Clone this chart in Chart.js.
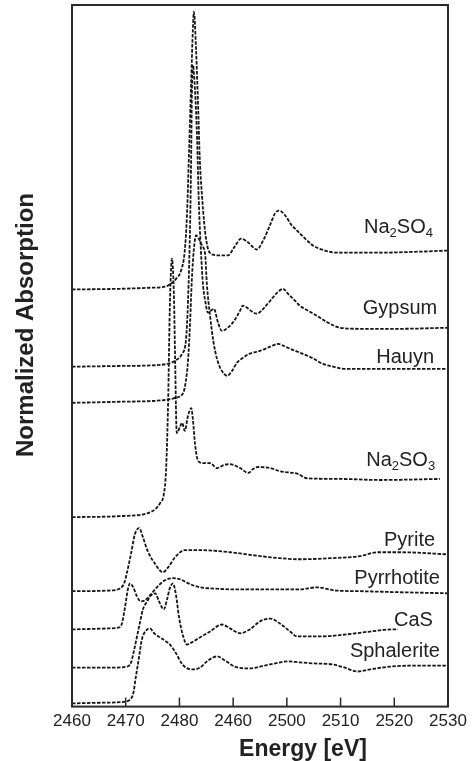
<!DOCTYPE html>
<html lang="en">
<head>
    <meta charset="UTF-8">
    <title>S K-edge XANES</title>
    <script src="https://cdn.jsdelivr.net/npm/chart.js"></script>
    <style>
        html, body { margin: 0; padding: 0; background: #fff; }
        #wrap { width: 473px; height: 761px; }
    </style>
</head>
<body>
    <div id="wrap"><canvas id="myChart" width="473" height="761"></canvas></div>
    <script>
        // x axis tick labels as printed (the 2490 position really reads "2460")
        const tickLabels = ['2460', '2470', '2480', '2460', '2500', '2510', '2520', '2530'];

        // spectra, offset vertically (edge step ~1 unit)
        const na2so4Energy = [2460.0, 2468.9, 2474.5, 2477.3, 2478.2, 2479.4, 2480.3, 2481.0, 2481.4, 2481.8, 2482.2, 2482.5, 2482.7, 2483.1, 2483.5, 2483.8, 2484.2, 2484.6, 2484.8, 2485.3, 2486.1, 2487.6, 2489.0, 2490.2, 2491.5, 2492.8, 2494.4, 2495.6, 2496.9, 2497.8, 2498.5, 2499.7, 2500.8, 2501.9, 2503.4, 2504.9, 2507.1, 2509.3, 2517.3, 2524.8, 2530.0];
        const na2so4Abs = [11.89, 11.91, 11.94, 11.97, 12.03, 12.20, 12.43, 13.00, 14.00, 15.86, 17.86, 19.29, 19.80, 18.71, 17.00, 15.57, 14.57, 13.80, 13.51, 13.06, 12.89, 12.86, 12.86, 13.09, 13.34, 13.23, 13.03, 13.29, 13.74, 14.06, 14.14, 14.00, 13.74, 13.57, 13.34, 13.14, 13.00, 12.94, 12.94, 12.97, 13.00];

        const gypsumEnergy = [2460.0, 2468.9, 2476.4, 2477.7, 2479.2, 2480.5, 2481.2, 2481.6, 2482.0, 2482.2, 2482.3, 2482.5, 2482.9, 2483.3, 2483.6, 2484.0, 2484.4, 2484.8, 2485.3, 2485.9, 2486.4, 2487.2, 2487.9, 2489.0, 2490.2, 2491.3, 2491.8, 2492.6, 2493.5, 2494.4, 2495.6, 2496.9, 2498.2, 2499.3, 2500.2, 2501.5, 2502.4, 2503.9, 2505.6, 2507.7, 2509.9, 2513.6, 2521.1, 2530.0];
        const gypsumAbs = [9.69, 9.71, 9.74, 9.77, 9.86, 10.06, 10.43, 11.57, 13.86, 15.86, 17.29, 18.29, 17.57, 16.14, 14.43, 13.00, 12.00, 11.57, 11.23, 11.29, 11.34, 10.94, 10.71, 10.80, 11.00, 11.29, 11.43, 11.37, 11.26, 11.20, 11.34, 11.57, 11.80, 11.91, 11.77, 11.57, 11.43, 11.29, 11.14, 10.94, 10.80, 10.77, 10.77, 10.80];

        const hauynEnergy = [2460.0, 2468.9, 2477.3, 2479.2, 2480.7, 2481.2, 2481.6, 2482.0, 2482.3, 2482.7, 2483.1, 2483.6, 2484.2, 2484.8, 2485.1, 2485.7, 2486.3, 2487.0, 2487.9, 2488.9, 2489.8, 2490.7, 2491.8, 2493.1, 2495.0, 2496.9, 2498.4, 2499.7, 2501.1, 2502.4, 2504.7, 2506.7, 2508.6, 2510.8, 2521.1, 2530.0];
        const hauynAbs = [8.66, 8.69, 8.74, 8.80, 8.94, 9.29, 9.86, 11.00, 12.14, 13.06, 13.43, 13.34, 13.14, 12.86, 12.06, 11.14, 10.43, 9.91, 9.57, 9.43, 9.57, 9.80, 9.94, 10.06, 10.14, 10.26, 10.34, 10.26, 10.17, 10.09, 9.94, 9.77, 9.69, 9.63, 9.63, 9.63];

        const na2so3Energy = [2460.0, 2468.9, 2474.0, 2475.5, 2476.4, 2477.1, 2477.5, 2477.9, 2478.2, 2478.6, 2479.0, 2479.2, 2479.5, 2480.1, 2480.5, 2481.0, 2481.6, 2482.2, 2482.5, 2482.9, 2483.5, 2484.6, 2485.7, 2487.0, 2488.3, 2489.4, 2491.3, 2492.8, 2493.7, 2494.6, 2496.9, 2498.7, 2502.1, 2503.7, 2509.9, 2517.3, 2528.5];
        const na2so3Abs = [5.40, 5.43, 5.51, 5.63, 5.80, 6.06, 6.71, 8.71, 11.29, 12.77, 11.57, 9.86, 7.80, 7.97, 8.09, 7.86, 8.29, 8.51, 8.20, 7.49, 7.00, 6.94, 6.94, 6.80, 6.89, 6.91, 6.80, 6.66, 6.77, 6.83, 6.80, 6.71, 6.63, 6.51, 6.49, 6.46, 6.49];

        const pyriteEnergy = [2460.0, 2467.1, 2468.9, 2469.7, 2470.2, 2471.0, 2471.7, 2472.5, 2473.2, 2474.1, 2475.5, 2476.9, 2477.9, 2479.2, 2481.0, 2483.8, 2489.4, 2495.0, 2498.7, 2502.4, 2508.0, 2513.6, 2516.8, 2521.1, 2530.0];
        const pyriteAbs = [3.29, 3.31, 3.37, 3.51, 3.80, 4.37, 4.91, 5.09, 4.83, 4.43, 4.06, 3.83, 3.97, 4.26, 4.46, 4.46, 4.40, 4.29, 4.23, 4.20, 4.23, 4.29, 4.40, 4.40, 4.34];

        const pyrrhotiteEnergy = [2460.0, 2467.1, 2468.8, 2469.3, 2469.9, 2470.4, 2470.8, 2471.4, 2472.1, 2472.8, 2473.6, 2474.5, 2475.8, 2477.3, 2478.8, 2480.1, 2482.0, 2483.8, 2485.7, 2491.3, 2496.9, 2502.4, 2505.6, 2509.0, 2513.6, 2521.1, 2530.0];
        const pyrrhotiteAbs = [2.20, 2.23, 2.26, 2.37, 2.86, 3.34, 3.51, 3.40, 3.14, 3.00, 3.03, 3.17, 3.40, 3.60, 3.66, 3.63, 3.49, 3.40, 3.37, 3.34, 3.34, 3.34, 3.40, 3.31, 3.29, 3.26, 3.23];

        const casEnergy = [2460.0, 2467.1, 2470.2, 2471.0, 2471.5, 2472.1, 2472.7, 2473.2, 2474.0, 2474.7, 2475.5, 2476.2, 2477.1, 2477.7, 2478.2, 2478.8, 2479.4, 2479.9, 2480.7, 2481.4, 2482.3, 2483.8, 2485.7, 2487.9, 2489.4, 2491.3, 2493.1, 2495.0, 2496.9, 2498.7, 2500.6, 2501.9, 2506.2, 2511.2, 2515.5, 2519.6, 2520.7];
        const casAbs = [1.11, 1.11, 1.14, 1.26, 1.57, 2.00, 2.43, 2.77, 3.00, 3.17, 3.23, 3.00, 2.77, 3.06, 3.37, 3.51, 3.14, 2.57, 2.00, 1.77, 1.83, 1.97, 2.14, 2.34, 2.23, 2.09, 2.20, 2.43, 2.51, 2.37, 2.14, 2.00, 2.00, 2.06, 2.14, 2.20, 2.20];

        const sphaleriteEnergy = [2460.0, 2465.2, 2469.9, 2470.8, 2471.4, 2471.9, 2472.5, 2473.0, 2473.8, 2474.5, 2475.3, 2476.4, 2477.5, 2478.4, 2479.4, 2480.3, 2481.2, 2482.5, 2483.8, 2485.3, 2487.0, 2488.5, 2490.3, 2493.1, 2495.9, 2498.7, 2500.0, 2502.4, 2505.2, 2508.6, 2510.8, 2513.1, 2515.5, 2519.2, 2524.8, 2530.0];
        const sphaleriteAbs = [0.09, 0.11, 0.14, 0.20, 0.37, 0.86, 1.43, 1.91, 2.17, 2.23, 2.09, 1.97, 1.86, 1.74, 1.51, 1.26, 1.11, 1.06, 1.11, 1.31, 1.43, 1.31, 1.14, 1.09, 1.17, 1.26, 1.29, 1.26, 1.23, 1.20, 1.11, 1.00, 1.06, 1.14, 1.17, 1.17];

        const FONT = "'Liberation Sans', Arial, Helvetica, sans-serif";
        const INK = '#151515';

        function toPoints(xs, ys) {
            return xs.map((x, i) => ({ x: x, y: ys[i] }));
        }

        function spectrum(name, xs, ys) {
            return {
                label: name,
                data: toPoints(xs, ys),
                borderColor: INK,
                borderWidth: 1.8,
                borderDash: [3.5, 1.5],
                pointRadius: 0,
                fill: false,
                cubicInterpolationMode: 'monotone',
            };
        }

        // curve names, with subscripts marked as [text, isSub]
        const curveLabels = [
            { parts: [['Na', 0], ['2', 1], ['SO', 0], ['4', 1]], x: 2527.2, y: 13.49 },
            { parts: [['Gypsum', 0]], x: 2528.0, y: 11.20 },
            { parts: [['Hauyn', 0]], x: 2527.4, y: 9.80 },
            { parts: [['Na', 0], ['2', 1], ['SO', 0], ['3', 1]], x: 2527.6, y: 6.86 },
            { parts: [['Pyrite', 0]], x: 2527.6, y: 4.57 },
            { parts: [['Pyrrhotite', 0]], x: 2528.5, y: 3.49 },
            { parts: [['CaS', 0]], x: 2527.2, y: 2.29 },
            { parts: [['Sphalerite', 0]], x: 2528.5, y: 1.40 },
        ];

        const decorations = {
            id: 'decorations',
            afterDraw(chart) {
                const ctx = chart.ctx;
                const area = chart.chartArea;
                const xs = chart.scales.x;
                const ys = chart.scales.y;
                ctx.save();

                // frame
                ctx.strokeStyle = '#2a2a2a';
                ctx.lineWidth = 2;
                ctx.strokeRect(area.left, area.top, area.right - area.left, area.bottom - area.top);

                // inward tick marks
                ctx.lineWidth = 1.5;
                xs.ticks.forEach(t => {
                    const px = xs.getPixelForValue(t.value);
                    ctx.beginPath();
                    ctx.moveTo(px, area.bottom);
                    ctx.lineTo(px, area.bottom - 9);
                    ctx.stroke();
                });

                // curve names
                ctx.fillStyle = '#222';
                ctx.textBaseline = 'alphabetic';
                ctx.textAlign = 'left';
                curveLabels.forEach(lab => {
                    let w = 0;
                    lab.parts.forEach(p => {
                        ctx.font = (p[1] ? '13px ' : '20px ') + FONT;
                        w += ctx.measureText(p[0]).width;
                    });
                    let px = xs.getPixelForValue(lab.x) - w;
                    const py = ys.getPixelForValue(lab.y);
                    lab.parts.forEach(p => {
                        ctx.font = (p[1] ? '13px ' : '20px ') + FONT;
                        ctx.fillText(p[0], px, p[1] ? py + 4 : py);
                        px += ctx.measureText(p[0]).width;
                    });
                });

                // axis titles
                ctx.font = 'bold 23px ' + FONT;
                ctx.textAlign = 'center';
                ctx.textBaseline = 'middle';
                ctx.fillText('Energy [eV]', area.left + 231, 750);
                ctx.translate(26, 325);
                ctx.rotate(-Math.PI / 2);
                ctx.font = 'bold 24px ' + FONT;
                ctx.fillText('Normalized Absorption', 0, 0);
                ctx.restore();
            }
        };

        const ctx = document.getElementById('myChart').getContext('2d');
        new Chart(ctx, {
            type: 'line',
            data: {
                datasets: [
                    spectrum('Na2SO4', na2so4Energy, na2so4Abs),
                    spectrum('Gypsum', gypsumEnergy, gypsumAbs),
                    spectrum('Hauyn', hauynEnergy, hauynAbs),
                    spectrum('Na2SO3', na2so3Energy, na2so3Abs),
                    spectrum('Pyrite', pyriteEnergy, pyriteAbs),
                    spectrum('Pyrrhotite', pyrrhotiteEnergy, pyrrhotiteAbs),
                    spectrum('CaS', casEnergy, casAbs),
                    spectrum('Sphalerite', sphaleriteEnergy, sphaleriteAbs),
                ],
            },
            options: {
                responsive: false,
                animation: false,
                layout: {
                    padding: { left: 72, right: 25, top: 5, bottom: 24 },
                },
                plugins: {
                    legend: { display: false },
                    tooltip: { enabled: false },
                },
                scales: {
                    x: {
                        type: 'linear',
                        min: 2460,
                        max: 2530,
                        grid: { display: false, drawTicks: false },
                        border: { display: false },
                        ticks: {
                            stepSize: 10,
                            padding: 5,
                            color: '#222',
                            font: { family: FONT, size: 17 },
                            maxRotation: 0,
                            autoSkip: false,
                            callback: (value, index) => tickLabels[index],
                        },
                    },
                    y: {
                        display: false,
                        min: 0,
                        max: 20,
                    },
                },
            },
            plugins: [decorations],
        });
    </script>
</body>
</html>
